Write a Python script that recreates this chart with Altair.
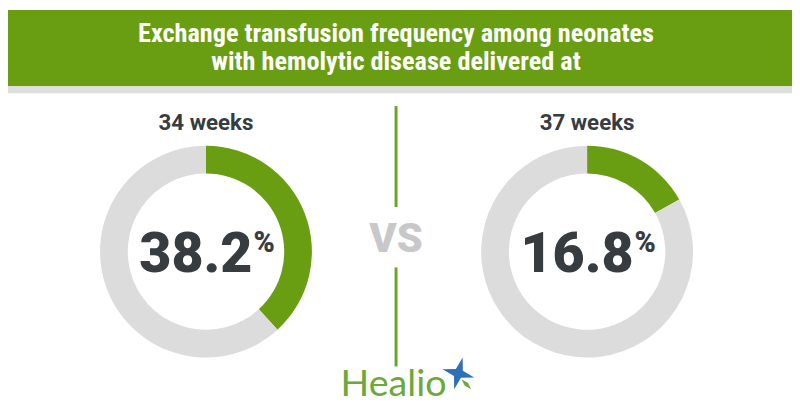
import altair as alt
import pandas as pd

# ---- data ----
groups = ["34 weeks", "37 weeks"]
rates = [38.2, 16.8]
title_lines = ["Exchange transfusion frequency among neonates",
               "with hemolytic disease delivered at"]
vs_label = ["VS"]
brand = ["Healio"]

# ---- styling / layout constants ----
O = 8  # page margin offset
GREEN = "#6a9e12"
RING_GREY = "#dcdcdc"
DARK = "#363c3f"
W, H = 800 - O, 420 - O

rows = []
for g, r in zip(groups, rates):
    rows.append({"group": g, "part": "exchange", "value": r, "order": 1})
    rows.append({"group": g, "part": "none", "value": round(100 - r, 1), "order": 2})
donut_df = pd.DataFrame(rows)
grp_df = pd.DataFrame({"group": groups, "rate": rates})
title_df = pd.DataFrame({"line": title_lines, "idx": list(range(len(title_lines)))})

xscale = alt.Scale(type="point", domain=groups, range=[208 - O, 593 - O], padding=0)
xgrp = alt.X("group:N", scale=xscale, axis=None)

base_blank = alt.Chart(pd.DataFrame({"k": [0]}))

header = base_blank.mark_rect(color=GREEN).encode(
    x=alt.value(0), x2=alt.value(W), y=alt.value(0), y2=alt.value(85 - O))
stripe = base_blank.mark_rect(color="#dedede").encode(
    x=alt.value(0), x2=alt.value(W), y=alt.value(85 - O), y2=alt.value(92 - O))

title = alt.Chart(title_df).mark_text(
    font="Roboto Condensed, Liberation Sans Narrow, Roboto", fontWeight="bold",
    fontSize=26.5, color="white", align="center", baseline="alphabetic"
).encode(
    text="line:N",
    x=alt.value(400 - O),
    y=alt.Y("idx:Q", scale=alt.Scale(domain=[0, 1], range=[40 - O, 69 - O]), axis=None),
)

donuts = []
for g in groups:
    donuts.append(
        alt.Chart(donut_df).transform_filter(alt.datum.group == g).mark_arc(
            innerRadius=79, outerRadius=107
        ).encode(
            theta=alt.Theta("value:Q", stack=True),
            color=alt.Color("part:N", scale=alt.Scale(domain=["exchange", "none"],
                                                      range=[GREEN, RING_GREY]), legend=None),
            order=alt.Order("order:Q"),
            x=xgrp,
            y=alt.value(252 - O),
        )
    )

labels = alt.Chart(grp_df).mark_text(
    font="Roboto", fontWeight="bold", fontSize=22.5, color=DARK, align="center",
    baseline="alphabetic"
).encode(text="group:N", x=xgrp, y=alt.value(129 - O))

numbers = alt.Chart(grp_df).mark_text(
    font="Roboto", fontWeight=900, fontSize=56, color=DARK, align="right",
    baseline="alphabetic", dx=47
).encode(text=alt.Text("rate:Q", format=".1f"), x=xgrp, y=alt.value(273 - O))

pct = alt.Chart(grp_df).mark_text(
    font="Roboto", fontWeight=900, fontSize=29, color=DARK, align="left",
    baseline="alphabetic", dx=48
).encode(text=alt.value("%"), x=xgrp, y=alt.value(252 - O))

vline1 = base_blank.mark_rule(color="#6fa22a", strokeWidth=3).encode(
    x=alt.value(400 - O), y=alt.value(105 - O), y2=alt.value(207 - O))
vline2 = base_blank.mark_rule(color="#6fa22a", strokeWidth=3).encode(
    x=alt.value(400 - O), y=alt.value(268 - O), y2=alt.value(368 - O))

vs = alt.Chart(pd.DataFrame({"t": vs_label})).mark_text(
    font="Roboto", fontWeight=900, fontSize=42, color="#c8c8c8", align="center",
    baseline="alphabetic"
).encode(text="t:N", x=alt.value(400 - O), y=alt.value(252 - O))

logo = alt.Chart(pd.DataFrame({"t": brand})).mark_text(
    font="Lato", fontSize=38, color="#6da83a", align="left", baseline="alphabetic"
).encode(text="t:N", x=alt.value(344 - O), y=alt.value(398 - O))

star_path = "M0,-1 L0.22,-0.22 L1,0 L0.22,0.22 L0,1 L-0.22,0.22 L-1,0 L-0.22,-0.22 Z"
star = base_blank.mark_point(
    shape=star_path, filled=True, color="#2f6fb7", size=1100, opacity=1, angle=15
).encode(x=alt.value(463 - O), y=alt.value(375 - O))
star_tail = base_blank.mark_point(
    shape="M0,-1 L0.3,0 L0,1 L-0.3,0 Z", filled=True, color="#6da83a", size=200, opacity=1, angle=135
).encode(x=alt.value(471 - O), y=alt.value(386 - O))

chart = alt.layer(
    header, stripe, title, *donuts, labels, numbers, pct, vline1, vline2, vs, logo, star, star_tail
).properties(
    width=W, height=H, padding=0, autosize="none", background="white"
).configure_view(stroke=None)

chart.save("out.html", embed_options={"renderer": "svg", "actions": False})
